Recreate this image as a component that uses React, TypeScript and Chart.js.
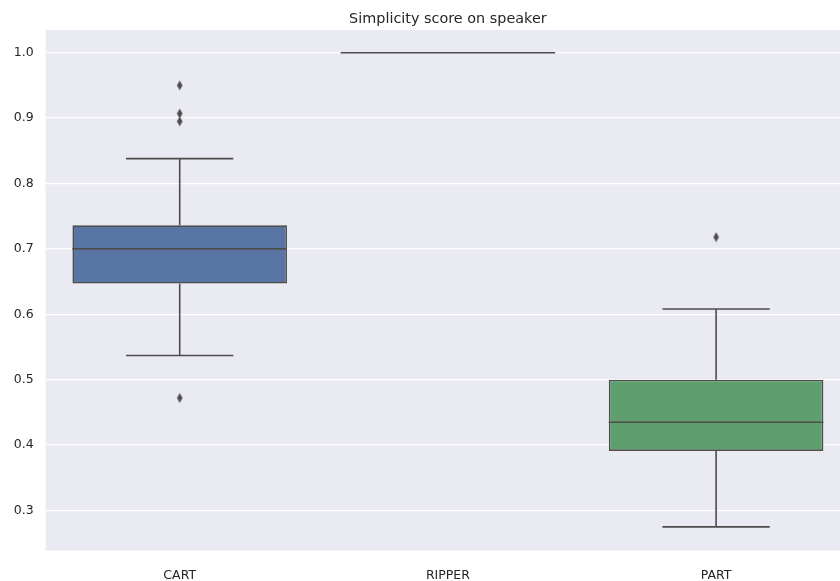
import React, { useEffect, useRef } from "react";
import { Chart, registerables } from "chart.js";

Chart.register(...registerables);

const categories = ["CART", "RIPPER", "PART"];
const q1 = [0.647, 1.0, 0.391];
const medians = [0.7, 1.0, 0.435];
const q3 = [0.736, 1.0, 0.5];
const whiskerLow = [0.537, 1.0, 0.275];
const whiskerHigh = [0.838, 1.0, 0.608];
const outliersCART = [0.95, 0.907, 0.895, 0.472];
const outliersRIPPER: number[] = [];
const outliersPART = [0.718];
const boxColors = ["#5875a4", "#cc8963", "#5f9e6e"];
const yTicks = [0.3, 0.4, 0.5, 0.6, 0.7, 0.8, 0.9, 1.0];
const title = "Simplicity score on speaker";

const LINE = "#4d4d4d";
const FONT = "'DejaVu Sans', sans-serif";

function makeDiamond(): HTMLCanvasElement {
  const c = document.createElement("canvas");
  c.width = 7;
  c.height = 11;
  const ctx = c.getContext("2d")!;
  ctx.fillStyle = LINE;
  ctx.beginPath();
  ctx.moveTo(3.5, 0.5);
  ctx.lineTo(6.3, 5.5);
  ctx.lineTo(3.5, 10.5);
  ctx.lineTo(0.7, 5.5);
  ctx.closePath();
  ctx.fill();
  return c;
}

export default function App() {
  const ref = useRef<HTMLCanvasElement | null>(null);

  useEffect(() => {
    const prevMargin = document.body.style.margin;
    document.body.style.margin = "0";
    const canvas = ref.current!;
    const diamond = makeDiamond();

    const outlierPoints: { x: number; y: number }[] = [];
    [outliersCART, outliersRIPPER, outliersPART].forEach((arr, i) =>
      arr.forEach((v) => outlierPoints.push({ x: i, y: v }))
    );

    const bgPlugin = {
      id: "bg",
      beforeDraw(chart: any) {
        const { ctx, chartArea } = chart;
        ctx.save();
        ctx.fillStyle = "#eaeaf2";
        ctx.fillRect(chartArea.left, chartArea.top, chartArea.right - chartArea.left, chartArea.bottom - chartArea.top);
        ctx.restore();
      },
    };

    const boxPlugin = {
      id: "boxparts",
      afterDatasetsDraw(chart: any) {
        const { ctx } = chart;
        const xs = chart.scales.x;
        const ys = chart.scales.y;
        ctx.save();
        ctx.strokeStyle = LINE;
        ctx.lineWidth = 1.6;
        ctx.lineCap = "butt";
        categories.forEach((_, i) => {
          const cx = xs.getPixelForValue(i);
          const half = xs.getPixelForValue(i + 0.4) - cx;
          const capHalf = xs.getPixelForValue(i + 0.2) - cx;
          const yq1 = ys.getPixelForValue(q1[i]);
          const yq3 = ys.getPixelForValue(q3[i]);
          const ylo = ys.getPixelForValue(whiskerLow[i]);
          const yhi = ys.getPixelForValue(whiskerHigh[i]);
          const ymed = ys.getPixelForValue(medians[i]);
          ctx.beginPath();
          ctx.moveTo(cx, yq3);
          ctx.lineTo(cx, yhi);
          ctx.moveTo(cx, yq1);
          ctx.lineTo(cx, ylo);
          ctx.moveTo(cx - capHalf, yhi);
          ctx.lineTo(cx + capHalf, yhi);
          ctx.moveTo(cx - capHalf, ylo);
          ctx.lineTo(cx + capHalf, ylo);
          ctx.moveTo(cx - half, ymed);
          ctx.lineTo(cx + half, ymed);
          ctx.stroke();
        });
        ctx.restore();
      },
      afterDraw(chart: any) {
        const { ctx } = chart;
        const xs = chart.scales.x;
        ctx.save();
        ctx.fillStyle = "#262626";
        ctx.font = `14.4px ${FONT}`;
        ctx.textAlign = "center";
        ctx.textBaseline = "alphabetic";
        ctx.fillText(title, xs.getPixelForValue(1), 22.5);
        ctx.restore();
      },
    };

    const chart = new Chart(canvas, {
      type: "bar",
      data: {
        datasets: [
          {
            type: "bar",
            data: categories.map((_, i) => ({ x: i, y: [q1[i], q3[i]] })) as any,
            backgroundColor: boxColors,
            borderColor: LINE,
            borderWidth: 1.6,
            borderSkipped: false,
            barPercentage: 1,
            categoryPercentage: 0.8,
          },
          {
            type: "scatter",
            data: outlierPoints,
            pointStyle: diamond as any,
            pointRadius: 4,
            showLine: false,
          } as any,
        ],
      },
      plugins: [bgPlugin, boxPlugin],
      options: {
        responsive: false,
        animation: false,
        layout: { autoPadding: false, padding: { top: 30, right: 0, left: 0, bottom: 0 } },
        plugins: {
          legend: { display: false },
          tooltip: { enabled: false },
          title: { display: false },
        },
        scales: {
          x: {
            type: "linear",
            offset: false,
            min: -0.5,
            max: 2.462,
            grid: { display: false, offset: false },
            border: { display: false },
            afterBuildTicks(scale: any) {
              scale.ticks = categories.map((_, i) => ({ value: i }));
            },
            afterFit(scale: any) {
              scale.height = 30.5;
              scale.paddingLeft = 0;
              scale.paddingRight = 0;
            },
            ticks: {
              padding: 10,
              color: "#262626",
              font: { family: FONT, size: 12.5 },
              autoSkip: false,
              maxRotation: 0,
              callback: (v: any) => categories[Math.round(Number(v))] ?? "",
            },
          },
          y: {
            type: "linear",
            min: 0.2388,
            max: 1.0347,
            grid: { color: "#ffffff", lineWidth: 1.3, drawTicks: false },
            border: { display: false },
            afterBuildTicks(scale: any) {
              scale.ticks = yTicks.map((v) => ({ value: v }));
            },
            afterFit(scale: any) {
              scale.width = 45.6;
              scale.paddingTop = 0;
              scale.paddingBottom = 0;
            },
            ticks: {
              padding: 12,
              color: "#262626",
              font: { family: FONT, size: 12.5 },
              callback: (v: any) => Number(v).toFixed(1),
            },
          },
        },
      } as any,
    });

    return () => {
      chart.destroy();
      document.body.style.margin = prevMargin;
    };
  }, []);

  return (
    <div style={{ width: 840, height: 581, position: "relative" }}>
      <canvas ref={ref} width={840} height={581} style={{ display: "block", width: 840, height: 581 }} />
    </div>
  );
}
